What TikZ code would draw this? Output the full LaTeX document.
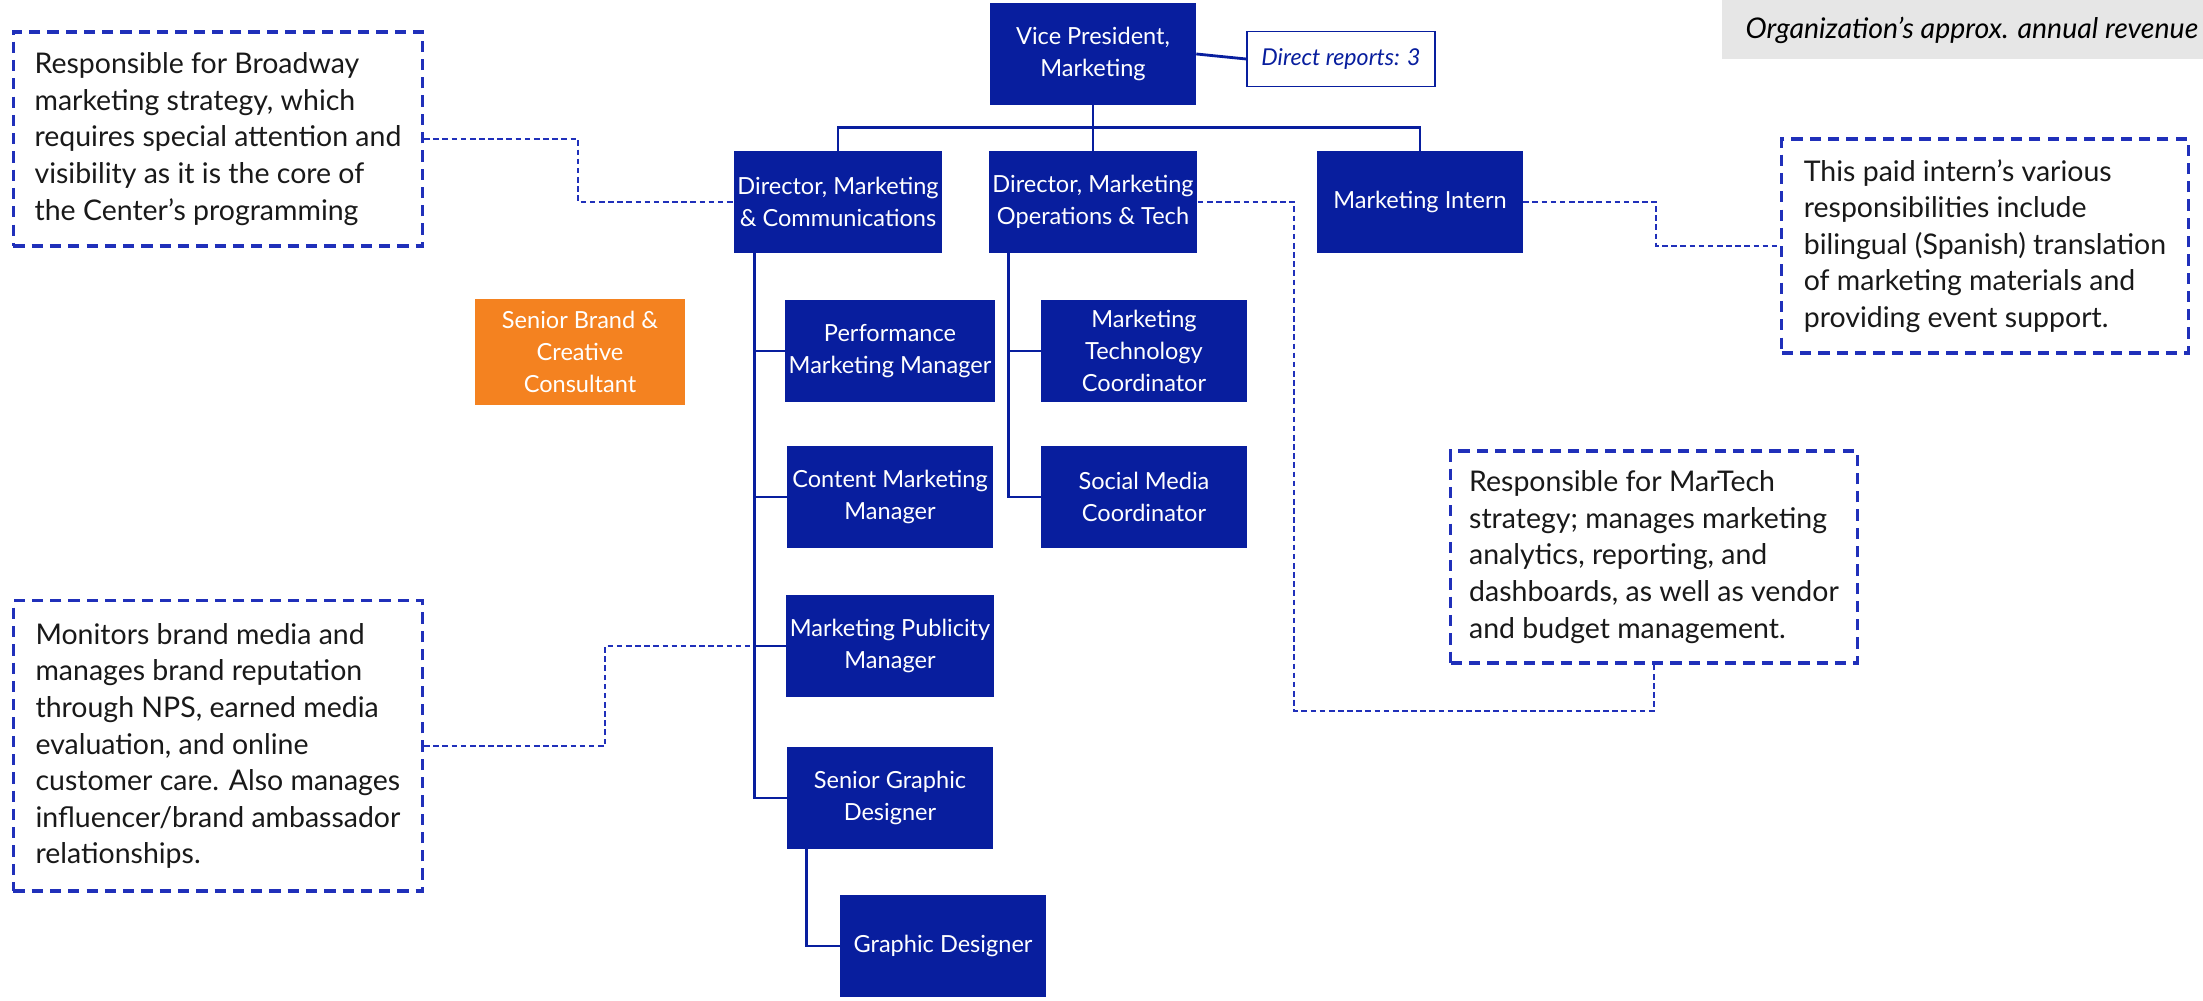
\documentclass[tikz,border=0pt]{standalone}
\usepackage{fontspec}
\setmainfont{Lato}
\usepackage{xcolor}
\usepackage{tikz}
\usetikzlibrary{positioning,calc}
\definecolor{navy}{RGB}{8,30,158}
\definecolor{noteblue}{RGB}{32,48,186}
\definecolor{brandorange}{RGB}{244,130,32}
\definecolor{revgray}{RGB}{230,230,230}

\begin{document}
\begin{tikzpicture}[x=0.01cm,y=-0.01cm,
    role/.style={rectangle,fill=navy,text=white,minimum width=2.05cm,minimum height=1.01cm,
      inner sep=1pt,align=center,font=\fontsize{6.7}{9.1}\selectfont},
    consult/.style={role,fill=brandorange,minimum width=2.09cm,minimum height=1.06cm},
    note/.style={rectangle,draw=noteblue,line width=0.9pt,dash pattern=on 3.2pt off 2pt,
      align=left,inner sep=0pt,text=black!90,font=\fontsize{8.1}{10.4}\selectfont},
    link/.style={draw=navy,line width=0.8pt},
    dotlink/.style={draw=noteblue,line width=0.45pt,dash pattern=on 1.6pt off 1pt}]
  \useasboundingbox (0,0) rectangle (2203,1001);

  \fill[revgray] (1722,0) rectangle (2203,59);
  \node[anchor=east,inner sep=0pt,font=\fontsize{8.1}{10}\selectfont\itshape] (revtxt) at (2199,30)
    {Organization’s approx. annual revenue};

  \node[role] (vp) at (1093,54) {Vice President,\\Marketing};
  \node[rectangle,draw=navy,line width=0.5pt,fill=white,text=navy,minimum width=1.88cm,
    minimum height=0.55cm,inner sep=1pt,font=\fontsize{6.6}{8}\selectfont\itshape] (dr) at (1341,59) {Direct reports: 3};

  \node[role] (mc) at (838,202) {Director, Marketing\\\& Communications};
  \node[role] (ops) at (1093,202) {Director, Marketing\\Operations \& Tech};
  \node[role] (intern) at (1420,202) {Marketing Intern};

  \node[role] (perf) at (890,351) {Performance\\Marketing Manager};
  \node[role] (content) at (890,497) {Content Marketing\\Manager};
  \node[role] (pub) at (890,646) {Marketing Publicity\\Manager};
  \node[role] (sgd) at (890,798) {Senior Graphic\\Designer};
  \node[role] (gd) at (943,946) {Graphic Designer};
  \node[role] (mtc) at (1144,351) {Marketing\\Technology\\Coordinator};
  \node[role] (smc) at (1144,497) {Social Media\\Coordinator};
  \node[consult] (sbc) at (580,352) {Senior Brand \&\\Creative\\Consultant};

  \node[note,minimum width=4.09cm,minimum height=2.14cm] (nbw) at (218,139)
    {Responsible for Broadway\\marketing strategy, which\\requires special attention and\\visibility as it is the core of\\the Center’s programming};
  \node[note,minimum width=4.06cm,minimum height=2.14cm] (nint) at (1985,246)
    {This paid intern’s various\\responsibilities include\\bilingual (Spanish) translation\\of marketing materials and\\providing event support.};
  \node[note,minimum width=4.06cm,minimum height=2.12cm] (nmt) at (1654,557)
    {Responsible for MarTech\\strategy; manages marketing\\analytics, reporting, and\\dashboards, as well as vendor\\and budget management.};
  \node[note,minimum width=4.09cm,minimum height=2.90cm] (nmon) at (218,746)
    {Monitors brand media and\\manages brand reputation\\through NPS, earned media\\evaluation, and online\\customer care. Also manages\\influencer/brand ambassador\\relationships.};

  \coordinate (mtturn) at (1294,711);
  \draw[dotlink] (nbw.east) -- ++(154,0) |- (mc.west);
  \draw[dotlink] (intern.east) -- ++(133,0) |- (nint.west);
  \draw[dotlink] (ops.east) -| (mtturn) -| (nmt.south);
  \draw[dotlink] (nmon.east) -- ++(181,0) |- (pub.west);

  \draw[link] (vp.east) -- (dr.west);
  \draw[link] (vp.south) -- (ops.north);
  \draw[link] (mc.north) -- ++(0,-23) -| (intern.north);
  \foreach \k in {perf,content,pub,sgd}
    \draw[link] (mc.south west) ++(21,0) |- (\k.west);
  \foreach \k in {mtc,smc}
    \draw[link] (ops.south west) ++(20,0) |- (\k.west);
  \draw[link] (sgd.south west) ++(20,0) |- (gd.west);
\end{tikzpicture}
\end{document}
